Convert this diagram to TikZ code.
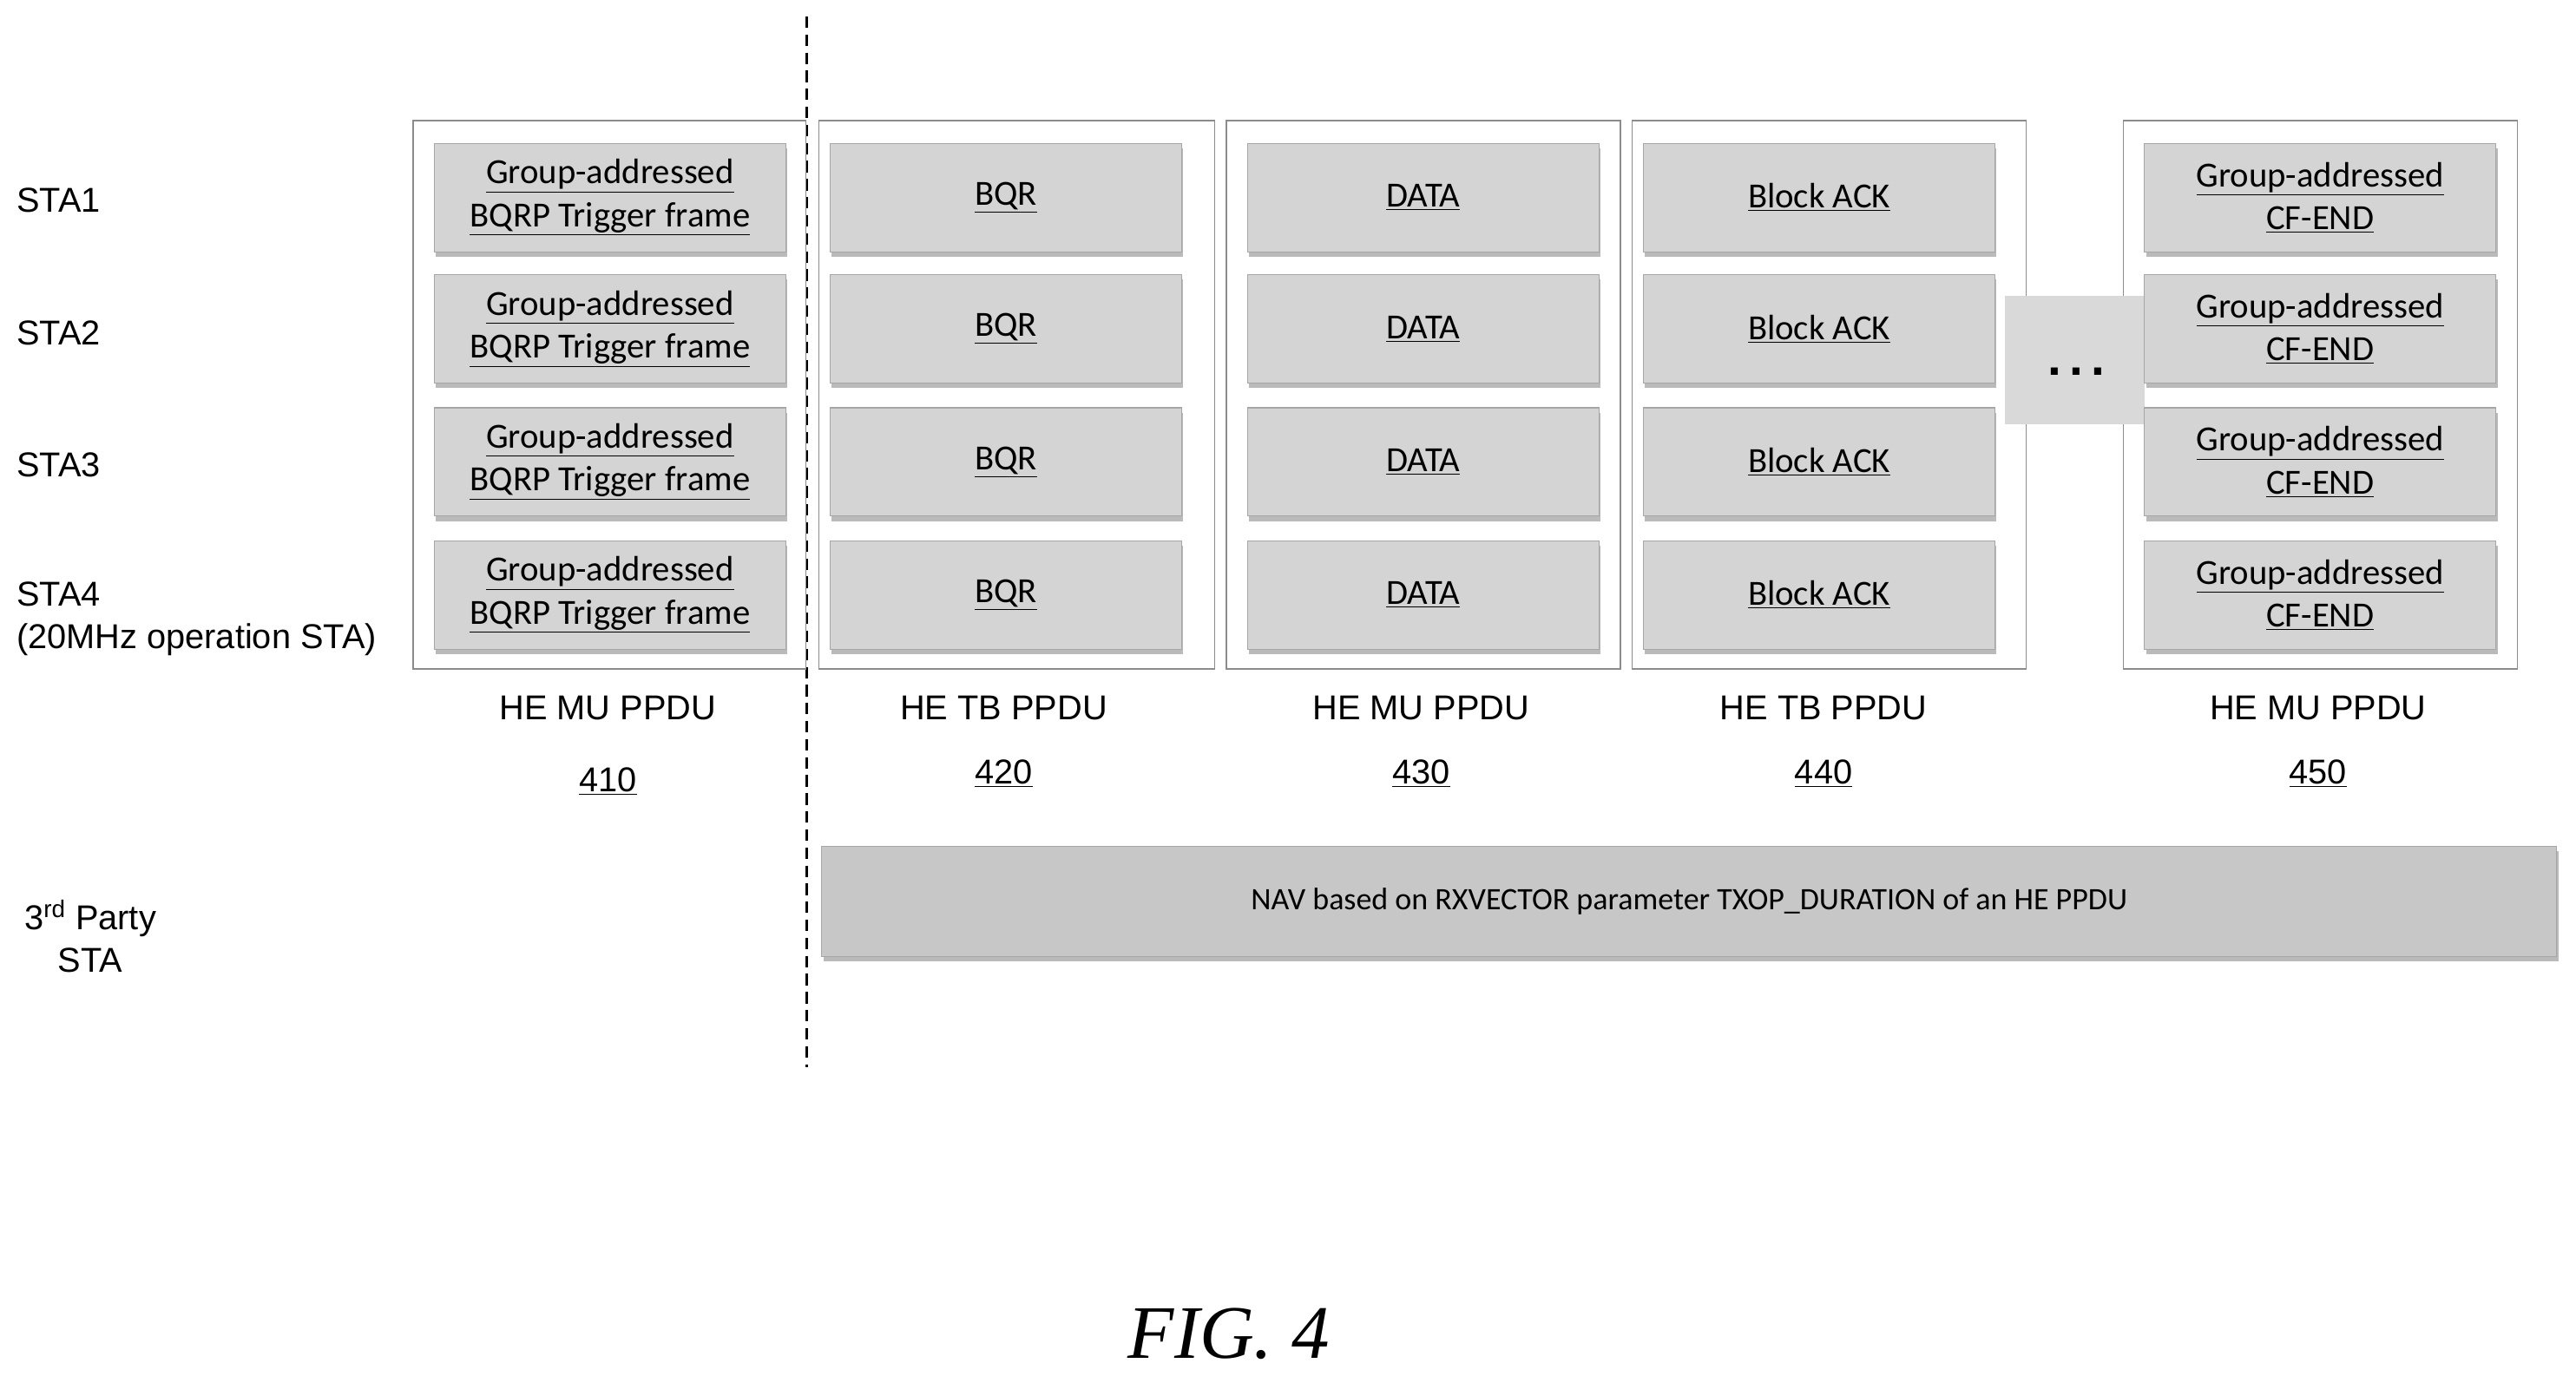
\documentclass[tikz,border=0pt]{standalone}
\usepackage{fontspec}
\setmainfont{Liberation Sans}
\newfontfamily\calfnt{Carlito}
\newfontfamily\figfnt{Liberation Serif}
\usetikzlibrary{shadows}
\begin{document}
\begin{tikzpicture}[x=1pt,y=-1pt,
  outer/.style={draw=black!45,line width=0.8pt,fill=white},
  inner/.style={draw=black!35,fill=black!17,line width=0.6pt,drop shadow={shadow xshift=1pt,shadow yshift=-3pt,fill=black!45,opacity=0.6},font=\calfnt\fontsize{21.5}{27}\selectfont,align=center,inner sep=0pt},
  lab/.style={font=\fontsize{21}{26}\selectfont},
  num/.style={font=\fontsize{21}{24}\selectfont}]
\useasboundingbox (0,0) rectangle (1568,850);
\draw[dash pattern=on 7pt off 4pt,line width=1.3pt] (491,10) -- (491,650);
\foreach \n/\a/\b in {o1/251/490,o2/498/739,o3/746/986,o4/993/1233,o5/1292/1532}
  \node[outer,minimum width=\b pt-\a pt,minimum height=334pt,anchor=north west] (\n) at (\a,73) {};
\node[fill=black!15,minimum width=85pt,minimum height=78pt,anchor=north west] (dots) at (1220,180) {};
\node[font=\bfseries\fontsize{30}{30}\selectfont] at (1264,226) {.\,.\,.};
\foreach \r/\y in {1/87,2/167,3/248,4/329}{
  \node[inner,minimum width=214pt,minimum height=66pt,anchor=north west] (a\r) at (264,\y) {\underline{Group-addressed}\\[-1pt]\underline{BQRP Trigger frame}};
  \node[inner,minimum width=214pt,minimum height=66pt,anchor=north west] (b\r) at (505,\y) {\underline{BQR}};
  \node[inner,minimum width=214pt,minimum height=66pt,anchor=north west] (c\r) at (759,\y) {\underline{DATA}};
  \node[inner,minimum width=214pt,minimum height=66pt,anchor=north west] (d\r) at (1000,\y) {\underline{Block ACK}};
  \node[inner,minimum width=214pt,minimum height=66pt,anchor=north west] (e\r) at (1305,\y) {\underline{Group-addressed}\\[-1pt]\underline{CF-END}};
}
\node[lab,anchor=west,inner sep=0pt] (s1) at (10,122) {STA1};
\node[lab,anchor=west,inner sep=0pt] (s2) at (10,203) {STA2};
\node[lab,anchor=west,inner sep=0pt] (s3) at (10,283) {STA3};
\node[lab,anchor=west,align=left,inner sep=0pt] (s4) at (10,377) {STA4\\(20MHz operation STA)};
\foreach \x/\t/\nn/\ny/\k in {370/HE MU PPDU/410/476/1,611/HE TB PPDU/420/471/2,865/HE MU PPDU/430/471/3,1110/HE TB PPDU/440/471/4,1411/HE MU PPDU/450/471/5}{
  \node[lab] (p\k) at (\x,431) {\t};
  \node[num] (n\k) at (\x,\ny) {\underline{\nn}};
}
\node[draw=black!35,fill=black!22,minimum width=1056pt,minimum height=67pt,anchor=north west,drop shadow={shadow xshift=1pt,shadow yshift=-3pt,fill=black!45,opacity=0.6},font=\calfnt\fontsize{19}{22}\selectfont] (nav) at (500,515) {NAV based on RXVECTOR parameter TXOP\_DURATION of an HE PPDU};
\node[lab,align=center] (tp) at (55,570) {3\textsuperscript{rd} Party\\STA};
\node[font=\figfnt\itshape\fontsize{46}{46}\selectfont] (fig) at (748,812) {FIG. 4};
\end{tikzpicture}
\end{document}
